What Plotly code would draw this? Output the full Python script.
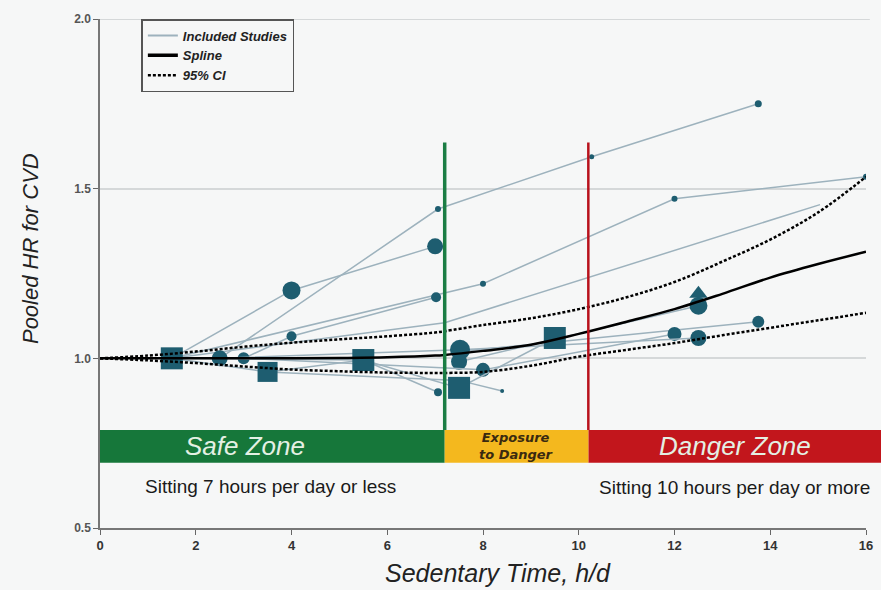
import plotly.graph_objects as go

# ---------------- data ----------------
spline_x = [0, 1, 2, 3, 4, 5, 6, 7, 7.2, 8, 9, 10, 11, 12, 13, 14, 15, 16]
spline_y = [1.0, 1.0, 1.0, 1.0, 1.0, 1.001, 1.003, 1.008, 1.01, 1.022, 1.04, 1.072, 1.108, 1.145, 1.19, 1.238, 1.278, 1.314]
ci_up_y = [1.0, 1.008, 1.02, 1.034, 1.046, 1.056, 1.065, 1.076, 1.08, 1.098, 1.118, 1.145, 1.18, 1.225, 1.285, 1.35, 1.43, 1.535]
ci_lo_y = [1.0, 0.994, 0.986, 0.976, 0.967, 0.962, 0.958, 0.957, 0.957, 0.96, 0.978, 1.005, 1.025, 1.045, 1.068, 1.09, 1.112, 1.134]

studies = [
    # (x, y, marker sizes, symbol)
    ([1.5, 4.0, 7.0], [1.0, 1.2, 1.33], [0, 18, 16], "circle"),
    ([2.5, 7.06, 10.27, 13.75], [1.0, 1.44, 1.594, 1.75], [0, 6, 5, 7], "circle"),
    ([1.5, 8.0, 12.0, 16.0], [1.0, 1.22, 1.47, 1.535], [0, 6, 6, 6], "circle"),
    ([3.0, 4.0, 7.02], [1.0, 1.065, 1.18], [12, 10, 10], "circle"),
    ([1.5, 7.2, 15.04], [1.0, 1.105, 1.453], [0, 0, 0], "circle"),
    ([1.5, 5.5, 7.06], [1.0, 0.995, 0.9], [0, 0, 8], "circle"),
    ([3.5, 7.5, 8.4], [0.96, 0.935, 0.904], [0, 0, 4], "circle"),
    ([7.5, 12.5], [0.99, 1.155], [16, 18], "circle"),
    ([7.5, 13.75], [1.02, 1.108], [0, 12], "circle"),
    ([3.0, 8.0, 12.0], [1.0, 0.966, 1.072], [0, 14, 14], "circle"),
    ([2.5, 7.52, 12.5], [1.0, 1.025, 1.06], [16, 20, 16], "circle"),
    ([1.5, 3.5, 5.5, 7.5, 9.5], [1.0, 0.96, 0.995, 0.913, 1.06], [22, 20, 22, 22, 22], "square"),
]
drop_tip_x = [12.5]
drop_tip_y = [1.19]

x_ticks = [0, 2, 4, 6, 8, 10, 12, 14, 16]
y_ticks = [0.5, 1.0, 1.5, 2.0]
y_tick_text = ["0.5", "1.0", "1.5", "2.0"]

zone_labels = ["Safe Zone", "Exposure<br>to Danger", "Danger Zone"]
zone_x0 = [0, 7.2, 10.2]
zone_x1 = [7.2, 10.2, 16]
zone_label_x = [3.02, 8.7, 13.27]
zone_y = (0.692, 0.789)
green_line_x = 7.2
red_line_x = 10.2
line_top_y = 1.636

# ---------------- figure ----------------
BG = "#f6f7f7"
STUDY_LINE = "#9db2bd"
MARK = "#1e5d70"
ZONE_COLS = ["#16773a", "#f4b81e", "#c2161c"]

fig = go.Figure()

for sx, sy, ss, sym in studies:
    fig.add_trace(go.Scatter(
        x=sx, y=sy, mode="lines+markers", showlegend=False, hoverinfo="skip",
        line=dict(color=STUDY_LINE, width=1.5),
        marker=dict(size=ss, color=MARK, symbol=sym, opacity=1, line=dict(width=0)),
    ))

fig.add_trace(go.Scatter(x=drop_tip_x, y=drop_tip_y, mode="markers", showlegend=False,
                         marker=dict(symbol="triangle-up", size=16, color=MARK, opacity=1, line=dict(width=0))))

fig.add_trace(go.Scatter(x=spline_x, y=ci_up_y, mode="lines", showlegend=False,
                         line=dict(color="black", width=2.5, dash="3px,2px", shape="spline")))
fig.add_trace(go.Scatter(x=spline_x, y=ci_lo_y, mode="lines", showlegend=False,
                         line=dict(color="black", width=2.5, dash="3px,2px", shape="spline")))
fig.add_trace(go.Scatter(x=spline_x, y=spline_y, mode="lines", showlegend=False,
                         line=dict(color="black", width=2.5, shape="spline")))

# legend entries
fig.add_trace(go.Scatter(x=[None], y=[None], mode="lines", name="Included Studies",
                         line=dict(color=STUDY_LINE, width=2)))
fig.add_trace(go.Scatter(x=[None], y=[None], mode="lines", name="Spline",
                         line=dict(color="black", width=3.5)))
fig.add_trace(go.Scatter(x=[None], y=[None], mode="lines", name="95% CI",
                         line=dict(color="black", width=2.5, dash="3px,2px")))

shapes = []
annotations = []
mid_y = sum(zone_y) / 2
for i in range(3):
    if i == 2:
        shapes.append(dict(type="rect", xref="paper", yref="y", x0=(zone_x0[i]) / 16, x1=1.03,
                           y0=zone_y[0], y1=zone_y[1], fillcolor=ZONE_COLS[i], line=dict(width=0), layer="below"))
    else:
        shapes.append(dict(type="rect", xref="x", yref="y", x0=zone_x0[i], x1=zone_x1[i],
                           y0=zone_y[0], y1=zone_y[1], fillcolor=ZONE_COLS[i], line=dict(width=0), layer="below"))
    if i == 1:
        annotations.append(dict(x=zone_label_x[i], y=mid_y, xref="x", yref="y",
                                text="<b><i>" + zone_labels[i] + "</i></b>", showarrow=False,
                                font=dict(family="DejaVu Sans", size=13, color="#3a2a10")))
    else:
        annotations.append(dict(x=zone_label_x[i], y=mid_y, xref="x", yref="y",
                                text="<i>" + zone_labels[i] + "</i>", showarrow=False,
                                font=dict(family="Liberation Sans, Arial", size=26, color="#e4f0e4")))

shapes.append(dict(type="line", xref="x", yref="y", x0=green_line_x, x1=green_line_x,
                   y0=zone_y[1], y1=line_top_y, line=dict(color="#1b7d44", width=3.5)))
shapes.append(dict(type="line", xref="x", yref="y", x0=red_line_x, x1=red_line_x,
                   y0=zone_y[1], y1=line_top_y, line=dict(color="#b8121c", width=2.5)))
shapes.append(dict(type="line", xref="paper", yref="y", x0=0, x1=1.005, y0=2.0, y1=2.0,
                   line=dict(color="#d5d8d9", width=2), layer="below"))

annotations.append(dict(x=3.57, y=0.621, xref="x", yref="y", text="Sitting 7 hours per day or less",
                        showarrow=False, font=dict(family="Liberation Sans, Arial", size=19, color="#1a1a1a")))
annotations.append(dict(x=13.25, y=0.618, xref="x", yref="y", text="Sitting 10 hours per day or more",
                        showarrow=False, font=dict(family="Liberation Sans, Arial", size=19, color="#1a1a1a")))

# axis titles
annotations.append(dict(x=0.52, y=-0.088, xref="paper", yref="paper", yanchor="middle",
                        text="<i>Sedentary Time, h/d</i>",
                        showarrow=False, font=dict(family="Liberation Sans, Arial", size=25, color="#222")))
annotations.append(dict(x=-0.0914, y=0.55, xref="paper", yref="paper", xanchor="center",
                        text="<i>Pooled HR for CVD</i>",
                        textangle=-90, showarrow=False,
                        font=dict(family="Liberation Sans, Arial", size=22, color="#222")))

fig.update_layout(
    width=881, height=590,
    margin=dict(l=100, r=15, t=19, b=62),
    paper_bgcolor=BG, plot_bgcolor=BG,
    shapes=shapes, annotations=annotations,
    showlegend=True,
    legend=dict(x=0.054, y=1.0, xanchor="left", yanchor="top",
                bgcolor=BG, bordercolor="#555", borderwidth=1.5,
                font=dict(family="Liberation Sans, Arial", size=13, color="#222", style="italic", weight="bold"),
                itemwidth=30, tracegroupgap=0),
    xaxis=dict(range=[0, 16], tickvals=x_ticks, ticks="outside", ticklen=5, tickcolor="#666",
               showgrid=False, zeroline=False, showline=True, linecolor="#777", linewidth=1.5,
               automargin=False,
               tickfont=dict(family="Liberation Sans Narrow, Arial Narrow, Liberation Sans", size=13,
                             color="#333", weight="bold")),
    yaxis=dict(range=[0.5, 2.0], tickvals=y_ticks, ticktext=y_tick_text, ticks="outside", ticklen=5,
               tickcolor="#666", showgrid=True, gridcolor="#d5d8d9", gridwidth=2, zeroline=False,
               showline=True, linecolor="#777", linewidth=1.5, automargin=False,
               tickfont=dict(family="Liberation Sans, Arial", size=12, color="#555", weight="bold")),
)

fig.write_html("out.html", config={"displayModeBar": False},
               post_script="document.body.style.margin='0';document.body.style.overflow='hidden';")
